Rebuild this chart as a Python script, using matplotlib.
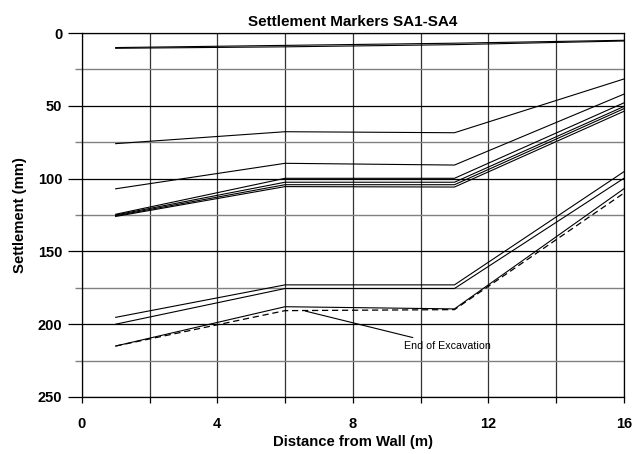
import matplotlib
matplotlib.use("Agg")
import matplotlib.pyplot as plt
from matplotlib.ticker import MultipleLocator

plt.rcParams['font.family'] = ['Liberation Sans', 'DejaVu Sans']

# distance from wall (m) of the markers
distance = [1, 6, 11, 16]

# settlement readings (mm), one list per survey
solid_series = [
    [10.0, 8.5, 7.0, 5.0],
    [10.5, 9.5, 8.0, 5.5],
    [76.0, 67.8, 68.5, 31.6],
    [107.0, 89.5, 90.7, 42.0],
    [124.5, 99.8, 99.8, 48.0],
    [125.0, 102.5, 102.5, 50.5],
    [125.5, 104.2, 104.2, 52.0],
    [126.0, 105.5, 105.8, 53.8],
    [195.3, 173.0, 173.0, 95.3],
    [200.0, 175.5, 175.5, 99.8],
    [215.0, 188.0, 189.5, 107.0],
]
end_of_excavation = [215.0, 190.7, 190.0, 110.0]

fig = plt.figure(figsize=(6.34, 4.54), dpi=100)
ax = fig.add_axes([0.129, 0.1256, 0.855, 0.8017])

for s in solid_series:
    ax.plot(distance, s, color='black', lw=0.8)
ax.plot(distance, end_of_excavation, color='black', lw=0.9, ls=(0, (5, 3)))

ax.set_xlim(0, 16)
ax.set_ylim(250, 0)

ax.xaxis.set_major_locator(MultipleLocator(4))
ax.xaxis.set_minor_locator(MultipleLocator(2))
ax.yaxis.set_major_locator(MultipleLocator(50))
ax.yaxis.set_minor_locator(MultipleLocator(25))

ax.grid(which='major', axis='y', color='black', lw=0.9)
ax.grid(which='minor', axis='y', color='#808080', lw=1.0)
ax.grid(which='both', axis='x', color='#333333', lw=0.9)

ax.tick_params(axis='y', which='major', direction='out', length=10, width=0.9, pad=4, labelsize=10.5)
ax.tick_params(axis='y', which='minor', direction='out', length=5, width=1.0, color='#808080')
ax.tick_params(axis='x', which='both', direction='out', length=4.5, width=0.9, pad=10, labelsize=10.5)
for lab in ax.get_xticklabels() + ax.get_yticklabels():
    lab.set_fontweight('bold')

for sp in ax.spines.values():
    sp.set_linewidth(0.9)

ax.set_title('Settlement Markers SA1-SA4', fontsize=11, fontweight='bold', pad=5)
ax.set_xlabel('Distance from Wall (m)', fontsize=10.7, fontweight='bold', labelpad=3)
ax.set_ylabel('Settlement (mm)', fontsize=10.7, fontweight='bold', labelpad=8)

ax.annotate('End of Excavation', xy=(6.6, 191), xytext=(9.5, 215),
            fontsize=7.7, va='center', ha='left',
            arrowprops=dict(arrowstyle='-', color='black', lw=0.8, shrinkA=2, shrinkB=0))

fig.savefig('out.png', dpi=100)
